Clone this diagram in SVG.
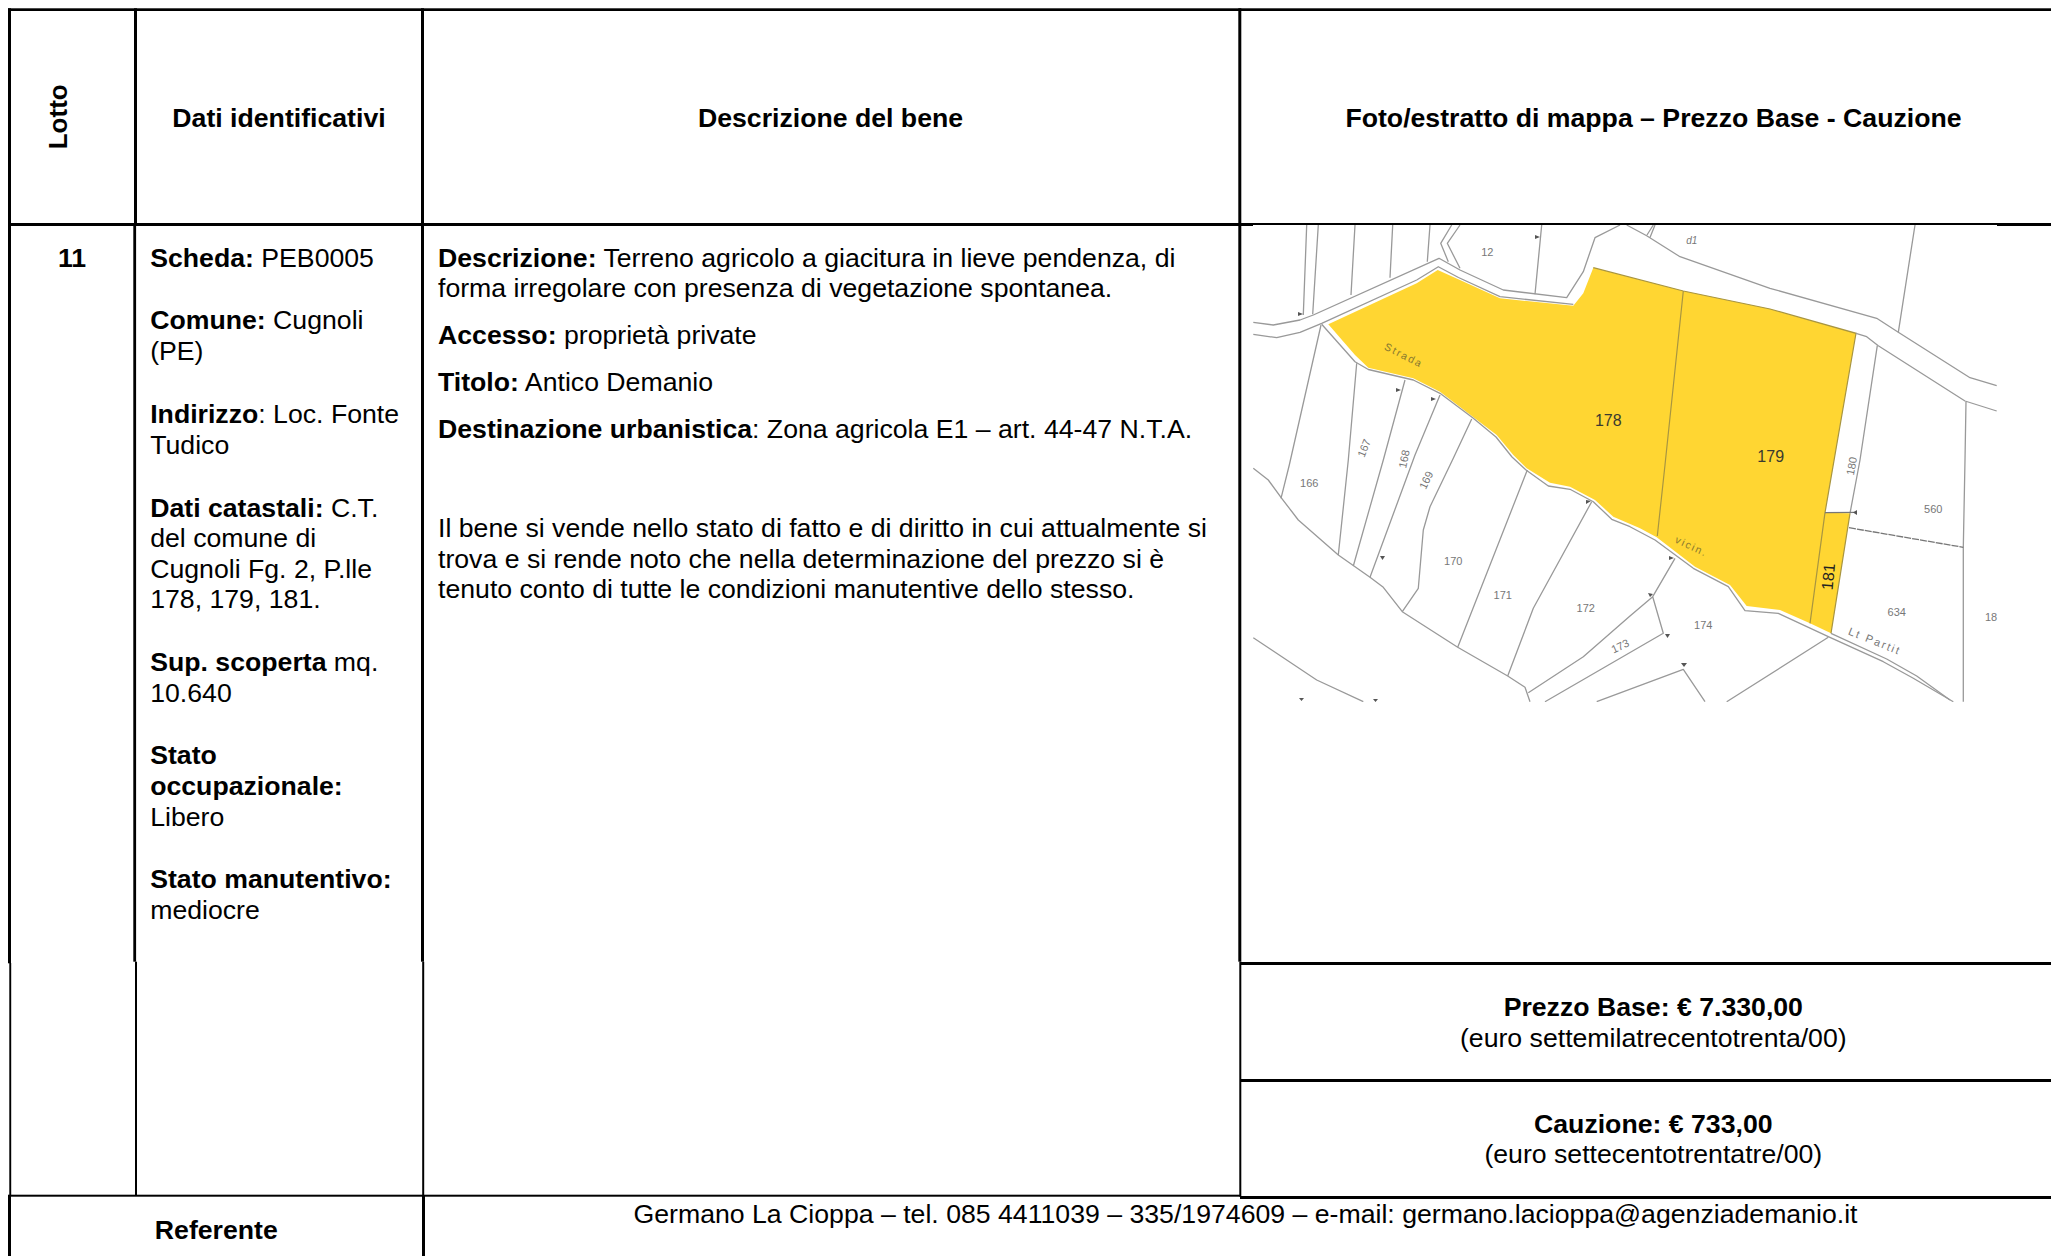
<svg xmlns="http://www.w3.org/2000/svg" width="2051" height="1256" viewBox="0 0 2051 1256">
<style>
text{font-family:"Liberation Sans",Arial,sans-serif;font-size:26.66px;fill:#000}
.b,tspan.b{font-weight:700}
.m{text-anchor:middle}
.grid{fill:#000}
.l{fill:none;stroke:#999;stroke-width:1.3;stroke-linejoin:round}
.d{fill:none;stroke:#a89540;stroke-width:1.2}
.t{fill:#555;stroke:none}
.n{font-size:11px;fill:#777;text-anchor:middle;dominant-baseline:central}
.big{font-size:16px;fill:#3a3a30;text-anchor:middle;dominant-baseline:central}
</style>
<defs><filter id="soft" x="0" y="0" width="1" height="1"><feGaussianBlur stdDeviation="0.45"/></filter></defs>
<rect width="2051" height="1256" fill="#fff"/>
<g id="grid" class="grid">
<rect x="8" y="8.3" width="2043" height="2.7"/>
<rect x="8" y="223" width="2043" height="3"/>
<rect x="8" y="8.300" width="3" height="955"/>
<rect x="134" y="8.300" width="3" height="216"/>
<rect x="133.300" y="224" width="2.800" height="737.700"/>
<rect x="421" y="8.300" width="3" height="953.400"/>
<rect x="1238.300" y="8.300" width="3" height="953.400"/>
<rect x="9.300" y="963" width="1.900" height="233"/>
<rect x="135" y="961.700" width="2" height="234"/>
<rect x="422.200" y="961.700" width="2" height="234"/>
<rect x="1239.300" y="961.700" width="2" height="235"/>
<rect x="1240" y="962" width="811" height="3"/>
<rect x="1240" y="1079" width="811" height="3"/>
<rect x="8" y="1194.700" width="1232" height="2"/>
<rect x="1240" y="1196" width="811" height="3"/>
<rect x="8" y="1195" width="3" height="61"/>
<rect x="422" y="1195" width="3" height="61"/>
</g>
<g id="map">
<rect x="1253" y="225" width="744" height="477" fill="#fff"/>
<g filter="url(#soft)">
<path fill="#ffd633" d="M1328.3 324.3L1416.7 283.3L1437.7 270L1458.3 279.3L1500 298.3L1573.3 305.7L1583.3 293.3L1593.3 267.7L1683.3 291L1770 309L1856 333.3L1825 512.7L1850 513.3L1831 633.3L1810 623.3L1780 610L1746.7 606L1730 585L1695 566.7L1656.7 537.3L1640 528.3L1613.3 516.7L1595 500L1570 486.7L1550 482.7L1526.7 468.3L1513.3 455L1496.7 435L1440 391.7L1413.3 378.3L1368.3 367.7L1355 355Z"/>
<path class="d" d="M1593.3 267.7L1683.3 291L1770 309L1856 333.3L1825 512.7M1850 513.3L1831 633.3M1683.3 291L1665 465L1657.3 536M1825 512.7L1810 623.3"/>
<path class="l" d="M1253.3 322.3L1273.3 325L1300 320L1313.3 315L1439 258.3L1460 270L1503.3 290L1566.7 297.7L1583.3 271.7L1595 237.7L1620 225"/>
<path class="l" d="M1626.7 225L1646.7 235.7L1680 256.7L1770 288.3L1876.7 318.3L1898.3 332.3L1970 377.7L1996.7 385.7"/>
<path class="l" d="M1253.3 334.3L1276.7 337.7L1300 332.3L1321.7 323.3L1416.7 280L1438.3 266.7L1458.5 277.5L1500 296.7L1573.3 304.3"/>
<path class="l" d="M1856 333.3L1866.7 336.7L1878.3 345.7L1965 401L1996.7 411"/>
<path class="l" d="M1321.7 324.3L1355 361.7L1368.3 369.5L1413.3 380L1440 393.3L1473 418L1496 437L1512 457L1526 470L1548.3 486L1570 489.3L1593.3 501.7L1611.7 519.3L1630 526.7L1655 540L1693.3 568.3L1728.3 586.7L1745 610.7L1778.3 613.3L1828.3 636.7L1883.3 661.7L1913.3 678.3L1953.3 701.7"/>
<path class="l" d="M1831 633.3L1886.7 659L1916.7 676L1950 700"/>
<path class="l" d="M1306.7 225L1303.3 315M1318.3 225L1312.7 314.3M1355 225L1351 295M1392.7 225L1390 277.7M1430 225L1427.3 261.7"/>
<path class="l" d="M1451.7 225L1440.7 243.3L1448.3 261.7M1460 225L1447.3 243.3L1460 268.3M1541.7 225L1535 294.3M1647 235L1653.3 225M1650 237.5L1655 225"/>
<path class="l" d="M1321 325L1289.3 465L1281 498.3M1356.7 363.3L1348.3 460L1338.3 555M1405 380L1383.3 460L1353.3 566M1440 395L1415 455L1370 577.3M1471.7 419L1453.3 458.3L1430 506.7L1423.3 530L1418.3 588.3L1402.3 611.7M1527.3 470L1457.7 647.3M1591.7 501.7L1533.3 608.3L1507.7 676"/>
<path class="l" d="M1253.3 468.3L1268.3 480L1281.7 498.3L1298.3 520L1338.3 555L1370 577.3L1383.3 587.3L1402.3 611.7L1457.7 647.3L1507.7 676L1525 687.3L1530 701.7"/>
<path class="l" d="M1253.3 637.7L1316.7 680L1363.3 701.7M1528.3 692.7L1583.3 656.7L1630 616L1652.7 596.7L1675 558.3M1652.7 596.7L1663.3 633.3L1545 701.7M1596.7 701.7L1683.3 669.3L1705 701.7M1828.3 637.3L1726.7 701.7"/>
<path class="l" d="M1963.3 547.3L1963.3 701.7M1966 401.7L1965 460L1963.3 547.3M1915 225L1898.3 332.3M1877.3 345.7L1860 460L1850 513.3"/>
<path class="l" stroke-dasharray="7 1" style="stroke:#777" d="M1849 527.7L1963.3 547.3"/>
<path class="l" style="stroke:#777" d="M1825 512.7L1856.7 512.3"/>
<path class="t" d="M1298 312l5 2-5 2zM1396 388l5 2-5 2zM1431 397l5 2-5 2zM1535 235l5 2-5 2zM1380 556h5l-2.500 4zM1586 500l5 1-5 3zM1299 698h5l-2.500 3zM1373 699h5l-2.500 3zM1669 556l5 2-5 2zM1648 593l5 1-3 3zM1665 634h5l-2.500 4zM1681 663h6l-3 4zM1857 510v5l-4-2.500z"/>
</g>
<g id="map-labels">
<text class="n" x="1487.300" y="251.700">12</text>
<text class="n" x="1691.700" y="240.700" style="font-style:italic;font-size:10px">d1</text>
<text class="n" transform="translate(1404 355) rotate(27)" style="fill:#8a7a30;font-size:10.500px;letter-spacing:1.800px">Strada</text>
<text class="big" x="1608.300" y="420">178</text>
<text class="big" x="1770.700" y="456.700">179</text>
<text class="n" transform="translate(1851.500 466) rotate(-80)">180</text>
<text class="n" x="1309.300" y="482.700">166</text>
<text class="n" transform="translate(1364 448) rotate(-68)">167</text>
<text class="n" transform="translate(1404 459) rotate(-78)">168</text>
<text class="n" transform="translate(1426 480) rotate(-65)">169</text>
<text class="n" x="1453.300" y="561">170</text>
<text class="n" x="1502.700" y="595">171</text>
<text class="n" x="1585.700" y="607.700">172</text>
<text class="n" transform="translate(1620 646) rotate(-25)">173</text>
<text class="n" x="1703.300" y="625">174</text>
<text class="n" x="1933.300" y="509.300">560</text>
<text class="n" x="1896.700" y="612.300">634</text>
<text class="n" x="1991" y="617.300">18</text>
<text class="big" transform="translate(1828.300 576.700) rotate(-85)" style="fill:#222">181</text>
<text class="n" transform="translate(1691.700 546) rotate(25)" style="fill:#8a7a30;font-size:10.500px;letter-spacing:1.800px">vicin.</text>
<text class="n" transform="translate(1875 641) rotate(22)" style="letter-spacing:2px">Lt Partit</text>
</g>
</g>
<g id="header">
<text class="b m" transform="translate(66.700 116.800) rotate(-90)" style="font-size:26px">Lotto</text>
<text class="b m" x="279" y="126.700">Dati identificativi</text>
<text class="b m" x="830.500" y="126.700">Descrizione del bene</text>
<text class="b m" x="1653.500" y="126.700">Foto/estratto di mappa – Prezzo Base - Cauzione</text>
</g>
<g id="lotto"><text class="b m" x="72" y="266.700">11</text></g>
<g id="dati">
<text x="150.200" y="266.700"><tspan class="b">Scheda:</tspan> PEB0005</text>
<text x="150.200" y="329"><tspan class="b">Comune:</tspan> Cugnoli</text>
<text x="150.200" y="360">(PE)</text>
<text x="150.200" y="423"><tspan class="b">Indirizzo</tspan>: Loc. Fonte</text>
<text x="150.200" y="454">Tudico</text>
<text x="150.200" y="516.500"><tspan class="b">Dati catastali:</tspan> C.T.</text>
<text x="150.200" y="547">del comune di</text>
<text x="150.200" y="578">Cugnoli Fg. 2, P.lle</text>
<text x="150.200" y="608">178, 179, 181.</text>
<text x="150.200" y="671"><tspan class="b">Sup. scoperta</tspan> mq.</text>
<text x="150.200" y="702">10.640</text>
<text x="150.200" y="764"><tspan class="b">Stato</tspan></text>
<text x="150.200" y="795"><tspan class="b">occupazionale:</tspan></text>
<text x="150.200" y="826">Libero</text>
<text x="150.200" y="888"><tspan class="b">Stato manutentivo:</tspan></text>
<text x="150.200" y="918.500">mediocre</text>
</g>
<g id="descrizione">
<text x="438" y="266.700"><tspan class="b">Descrizione:</tspan> Terreno agricolo a giacitura in lieve pendenza, di</text>
<text x="438" y="297">forma irregolare con presenza di vegetazione spontanea.</text>
<text x="438" y="344"><tspan class="b">Accesso:</tspan> proprietà private</text>
<text x="438" y="391"><tspan class="b">Titolo:</tspan> Antico Demanio</text>
<text x="438" y="438"><tspan class="b">Destinazione urbanistica</tspan>: Zona agricola E1 – art. 44-47 N.T.A.</text>
<text x="438" y="536.500">Il bene si vende nello stato di fatto e di diritto in cui attualmente si</text>
<text x="438" y="567.500">trova e si rende noto che nella determinazione del prezzo si è</text>
<text x="438" y="598">tenuto conto di tutte le condizioni manutentive dello stesso.</text>
</g>
<g id="prezzo">
<text class="b m" x="1653.300" y="1016">Prezzo Base: € 7.330,00</text>
<text class="m" x="1653.300" y="1046.500">(euro settemilatrecentotrenta/00)</text>
</g>
<g id="cauzione">
<text class="b m" x="1653.300" y="1132.500">Cauzione: € 733,00</text>
<text class="m" x="1653.300" y="1162.500">(euro settecentotrentatre/00)</text>
</g>
<g id="referente">
<text class="b m" x="216.300" y="1238.700">Referente</text>
<text class="m" x="1245.500" y="1222.500">Germano La Cioppa – tel. 085 4411039 – 335/1974609 – e-mail: germano.lacioppa@agenziademanio.it</text>
</g>
</svg>
